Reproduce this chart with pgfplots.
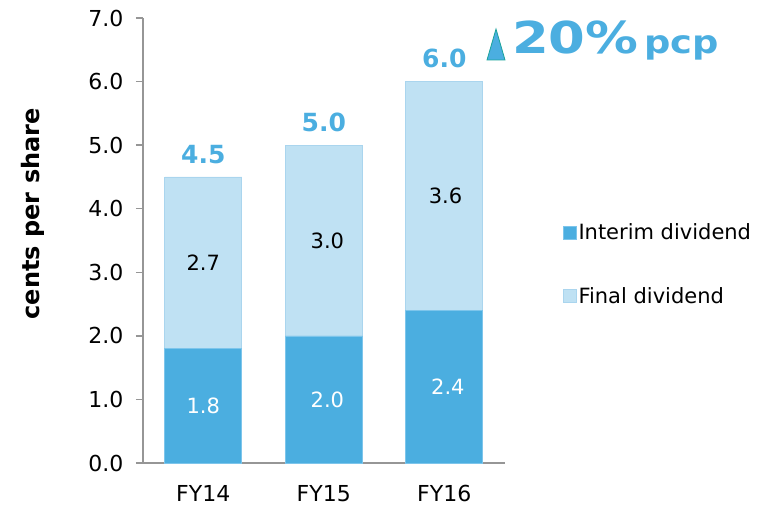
\documentclass[border=0pt]{standalone}
\usepackage{fontspec}
\setmainfont{DejaVu Sans}
\usepackage{graphicx}
\usepackage{pgfplots}
\pgfplotsset{compat=1.18}
\definecolor{interim}{RGB}{75,174,224}
\definecolor{interimedge}{RGB}{125,197,235}
\definecolor{final}{RGB}{191,225,243}
\definecolor{finaledge}{RGB}{170,213,238}
\definecolor{axisgray}{RGB}{150,150,150}
\definecolor{tealedge}{RGB}{26,163,154}
\pgfplotsset{
  sqlegend/.style={legend image code/.code={\fill[##1] (0pt,-6.5pt) rectangle (13pt,6.5pt);}},
  common/.style={scale only axis, width=361.5pt, height=445pt,
    anchor=south west, at={(143pt,-463pt)},
    xmin=-0.5, xmax=2.5, ymin=0, ymax=7},
}
\begin{document}
\begin{tikzpicture}
\useasboundingbox (0pt,0pt) rectangle (767pt,-505pt);
\begin{axis}[
  common,
  ybar stacked, bar width=77pt,
  axis x line*=bottom, axis y line*=left,
  axis line style={axisgray, line width=1.5pt},
  xtick={0,1,2}, xticklabels={FY14,FY15,FY16},
  x tick style={draw=none},
  ytick={0,1,...,7},
  y tick style={axisgray, line width=1.5pt},
  tick align=outside, major tick length=7pt,
  ticklabel style={font=\fontsize{22}{24}\selectfont, text=black},
  yticklabel style={xshift=-9pt, /pgf/number format/.cd, fixed, fixed zerofill, precision=1, assume math mode=true},
  xticklabel style={inner sep=1pt, text depth=0pt, yshift=-14pt},
  ylabel={\bfseries cents per share},
  ylabel style={at={(rel axis cs:-0.304,0.56)}, anchor=center, font=\fontsize{24}{26}\selectfont},
  legend style={draw=none, fill=none, at={(rel axis cs:1.161,0.542)}, anchor=north west,
    font=\fontsize{21}{23}\selectfont, row sep=42pt, inner sep=0pt,
    /tikz/every even column/.append style={column sep=5pt}},
  legend cell align=left,
]
\addplot+[fill=interim, draw=interimedge, line width=0.6pt, sqlegend]
  coordinates {(0,1.8) (1,2.0) (2,2.4)};
\addlegendentry{Interim dividend}
\addplot+[fill=final, draw=finaledge, line width=0.6pt, sqlegend]
  coordinates {(0,2.7) (1,3.0) (2,3.6)};
\addlegendentry{Final dividend}
\end{axis}
\begin{axis}[common, hide axis]
\addplot[draw=none, mark=none, point meta=explicit symbolic,
  nodes near coords,
  every node near coord/.style={anchor=center, text=white, font=\fontsize{21}{23}\selectfont}]
  coordinates {(0,0.9) [1.8] (1.03,1.0) [2.0] (2.03,1.2) [2.4]};
\addplot[draw=none, mark=none, point meta=explicit symbolic,
  nodes near coords,
  every node near coord/.style={anchor=center, text=black, font=\fontsize{21}{23}\selectfont}]
  coordinates {(0,3.15) [2.7] (1.03,3.5) [3.0] (2.01,4.2) [3.6]};
\addplot[draw=none, mark=none, point meta=explicit symbolic,
  nodes near coords,
  every node near coord/.style={anchor=south, text=interim, yshift=10pt,
    font=\bfseries\fontsize{25}{27}\selectfont}]
  coordinates {(0,4.5) [4.5] (1,5.0) [5.0] (2,6.0) [6.0]};
\end{axis}
\draw[tealedge, fill=interim, line width=0.8pt] (487pt,-60pt) -- (496pt,-29pt) -- (505pt,-60pt) -- cycle;
\node[anchor=base west, inner sep=0pt, text=interim, font=\bfseries] at (512pt,-54pt)
  {\scalebox{1.2}[1]{\fontsize{44}{44}\selectfont 20\%}\hspace{6pt}\scalebox{1.15}[1]{\fontsize{32}{32}\selectfont pcp}};
\end{tikzpicture}
\end{document}
